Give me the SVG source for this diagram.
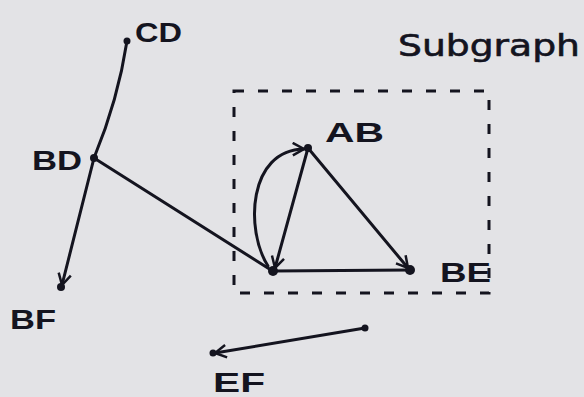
<svg xmlns="http://www.w3.org/2000/svg" width="584" height="397" viewBox="0 0 584 397">
<defs>
<style>
.ink{stroke:#14141f;stroke-width:3;fill:none;stroke-linecap:round;stroke-linejoin:round}
.lbl{font-family:"Liberation Sans",Arial,sans-serif;font-size:27px;fill:#14141f;font-weight:bold}
.dot{fill:#14141f}
</style>
<marker id="ah" viewBox="0 0 12 12" refX="10" refY="6" markerWidth="5" markerHeight="5" orient="auto" markerUnits="strokeWidth">
<path d="M1,1 L10,6 L1,11" fill="none" stroke="#14141f" stroke-width="2"/>
</marker>
</defs>
<rect width="584" height="397" fill="#e3e3e6"/>
<g id="subgraph">
<rect x="234" y="91" width="255" height="202" fill="none" stroke="#14141f" stroke-width="3" stroke-dasharray="10 14"/>
<text x="398" y="56" textLength="182" lengthAdjust="spacingAndGlyphs" style="font-family:'DejaVu Sans',sans-serif;font-size:30px;fill:#14141f;stroke:#14141f;stroke-width:0.6">Subgraph</text>
</g>
<g id="connectors">
<path class="ink" d="M127,41 Q118,100 94,158"/>
<path class="ink" d="M94,158 L62,285" marker-end="url(#ah)"/>
<path class="ink" d="M94,158 L271,270"/>
<path class="ink" d="M308,148 L275,268" marker-end="url(#ah)"/>
<path class="ink" d="M268,266 C245,230 248,150 304,149" marker-end="url(#ah)"/>
<path class="ink" d="M308,148 L408,268" marker-end="url(#ah)"/>
<path class="ink" d="M273,271 L410,270"/>
<path class="ink" d="M365,328 L215,353" marker-end="url(#ah)"/>
</g>
<g id="node-CD"><circle class="dot" cx="127" cy="41" r="3.5"/><text class="lbl" x="135" y="42" textLength="47" lengthAdjust="spacingAndGlyphs">CD</text></g>
<g id="node-BD"><circle class="dot" cx="94" cy="158" r="4"/><text class="lbl" x="32" y="170" textLength="50" lengthAdjust="spacingAndGlyphs">BD</text></g>
<g id="node-BF"><circle class="dot" cx="61" cy="287" r="4"/><text class="lbl" x="10" y="329" textLength="46" lengthAdjust="spacingAndGlyphs">BF</text></g>
<g id="node-AB"><circle class="dot" cx="308" cy="148" r="4"/><text class="lbl" x="325" y="142" textLength="59" lengthAdjust="spacingAndGlyphs">AB</text></g>
<g id="node-BE"><circle class="dot" cx="410" cy="270" r="5"/><text class="lbl" x="440" y="282" textLength="51" lengthAdjust="spacingAndGlyphs">BE</text></g>
<g id="node-C"><circle class="dot" cx="273" cy="271" r="5"/></g>
<g id="node-EF"><circle class="dot" cx="365" cy="328" r="3.5"/><circle class="dot" cx="213" cy="353" r="3.5"/><text class="lbl" x="213" y="392" textLength="52" lengthAdjust="spacingAndGlyphs">EF</text></g>
</svg>
